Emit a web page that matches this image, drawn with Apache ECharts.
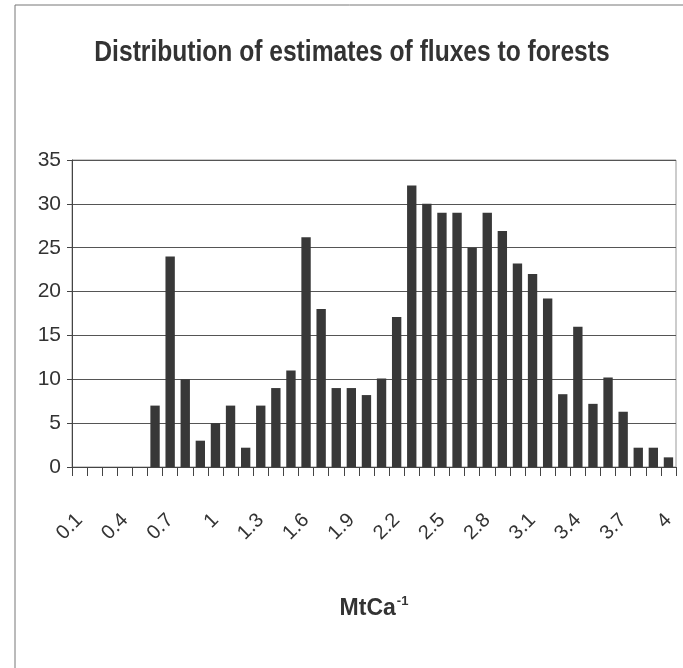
<!DOCTYPE html>
<html>
<head>
<meta charset="utf-8">
<script src="https://cdn.jsdelivr.net/npm/echarts@6/dist/echarts.min.js"></script>
<style>
html,body{margin:0;padding:0;background:#fff;}
#chart{width:683px;height:668px;}
</style>
</head>
<body>
<div id="chart"></div>
<script>
var titleText = 'Distribution of estimates of fluxes to forests';
var axisName = 'MtCa';
var categories = ['0.1','0.2','0.3','0.4','0.5','0.6','0.7','0.8','0.9','1',
                  '1.1','1.2','1.3','1.4','1.5','1.6','1.7','1.8','1.9','2',
                  '2.1','2.2','2.3','2.4','2.5','2.6','2.7','2.8','2.9','3',
                  '3.1','3.2','3.3','3.4','3.5','3.6','3.7','3.8','3.9','4'];
var counts = [0,0,0,0,0,7,24,10,3,5,
              7,2.2,7,9,11,26.2,18,9,9,8.2,
              10.1,17.1,32.1,30,29,29,25,29,26.9,23.2,
              22,19.2,8.3,16,7.2,10.2,6.3,2.2,2.2,1.1];
var yTicks = {min:0, max:35, interval:5};

var font = "'Liberation Sans', Arial, sans-serif";
var chart = echarts.init(document.getElementById('chart'), null, {renderer:'canvas'});
chart.setOption({
  backgroundColor:'#fff',
  animation:false,
  graphic:[
    {type:'rect', shape:{x:15, y:5, width:720, height:720},
     style:{fill:'none', stroke:'#777', lineWidth:1}},
    {type:'text', x:352, y:53, scaleX:0.82,
     style:{text:titleText, fill:'#333', font:'bold 30px ' + font,
            align:'center', verticalAlign:'middle', textAlign:'center', textVerticalAlign:'middle'}}
  ],
  grid:{left:72, right:7, top:160, bottom:201, containLabel:false, outerBoundsMode:'none',
        show:true, borderColor:'#999', borderWidth:1},
  xAxis:{
    type:'category', data:categories,
    axisLine:{lineStyle:{color:'#444', width:1}},
    axisTick:{show:true, length:9, interval:0, lineStyle:{color:'#444'}},
    axisLabel:{interval:2, rotate:45, margin:50, fontSize:20, color:'#333', fontFamily:font},
    name:'{a|' + axisName + '}{s|-1}', nameLocation:'middle', nameGap:128,
    nameTextStyle:{rich:{
      a:{fontSize:23, fontWeight:'bold', color:'#333', fontFamily:font},
      s:{fontSize:13, fontWeight:'bold', color:'#333', fontFamily:font, padding:[0,0,15,1]}
    }}
  },
  yAxis:{
    type:'value', min:yTicks.min, max:yTicks.max, interval:yTicks.interval,
    axisLine:{show:true, lineStyle:{color:'#444', width:1}},
    axisTick:{show:true, length:5, lineStyle:{color:'#444'}},
    axisLabel:{fontSize:21, color:'#333', fontFamily:font, margin:11},
    splitLine:{show:true, lineStyle:{color:'#555', width:1}}
  },
  series:[{
    type:'bar', data:counts, barCategoryGap:'38%',
    itemStyle:{color:'#383838'}
  }]
});
</script>
</body>
</html>
